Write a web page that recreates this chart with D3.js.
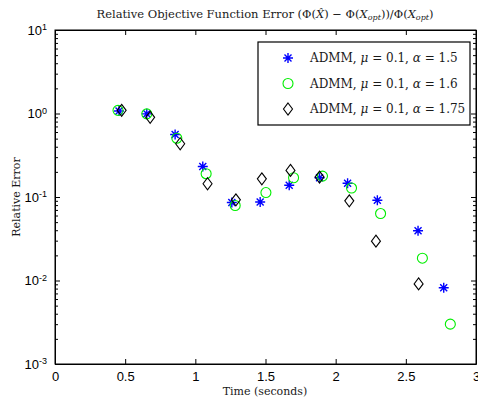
<!DOCTYPE html>
<html>
<head>
<meta charset="utf-8">
<script src="https://cdn.jsdelivr.net/npm/d3@7"></script>
<style>
  body { margin: 0; background: #fff; }
  svg { display: block; }
  .serif { font-family: "DejaVu Serif", "Liberation Serif", serif; fill: #1a1a1a; }
  .tick text { font-family: "Liberation Sans", Arial, sans-serif; font-size: 13px; }
</style>
</head>
<body>
<svg id="chart" width="478" height="404"></svg>
<script>
// time (s) and relative error for each run
const time15 = [0.456, 0.654, 0.856, 1.053, 1.26, 1.462, 1.669, 1.885, 2.085, 2.297, 2.587, 2.77];
const err15 = [1.07, 0.99, 0.56, 0.232, 0.086, 0.087, 0.138, 0.17, 0.146, 0.0916, 0.0394, 0.0082];
const time16 = [0.449, 0.654, 0.868, 1.077, 1.284, 1.503, 1.70, 1.906, 2.113, 2.32, 2.618, 2.817];
const err16 = [1.09, 0.99, 0.506, 0.19, 0.079, 0.113, 0.17, 0.178, 0.128, 0.0634, 0.0185, 0.0030];
const time175 = [0.475, 0.678, 0.892, 1.087, 1.289, 1.474, 1.678, 1.885, 2.097, 2.287, 2.591];
const err175 = [1.09, 0.90, 0.434, 0.144, 0.0925, 0.165, 0.208, 0.173, 0.09, 0.0296, 0.0091];
const xTicks = [0, 0.5, 1, 1.5, 2, 2.5, 3];
const yDecades = [-3, -2, -1, 0, 1];

const series = [
  { alpha: '1.5', marker: 'star', color: '#0000ff', xs: time15, ys: err15 },
  { alpha: '1.6', marker: 'circle', color: '#00ee00', xs: time16, ys: err16 },
  { alpha: '1.75', marker: 'diamond', color: '#000000', xs: time175, ys: err175 },
];

const svg = d3.select('#chart');
const plot = { left: 55, right: 476, top: 30, bottom: 364 };
const x = d3.scaleLinear().domain([0, 3]).range([plot.left, plot.right]);
const y = d3.scaleLog().domain([1e-3, 10]).range([plot.bottom, plot.top]);

// minor log ticks
const minor = [];
for (const d of yDecades.slice(0, -1)) for (let m = 2; m <= 9; m++) minor.push(m * Math.pow(10, d));

function logLabels(g) {
  g.selectAll('.tick text').each(function (d) {
    const e = Math.round(Math.log10(d));
    const t = d3.select(this).text('');
    t.append('tspan').text('10');
    t.append('tspan').attr('dy', '-0.5em').attr('font-size', '9px').text(e);
  });
}

// axes: ticks point inward
svg.append('g').attr('transform', `translate(0,${plot.bottom})`)
  .call(d3.axisBottom(x).tickValues(xTicks).tickFormat(d3.format('')).tickSizeInner(-5).tickSizeOuter(0).tickPadding(8));
svg.append('g').attr('transform', `translate(0,${plot.top})`)
  .call(d3.axisTop(x).tickValues(xTicks).tickFormat('').tickSizeInner(-5).tickSizeOuter(0));

const yMajor = yDecades.map((d) => Math.pow(10, d));
svg.append('g').attr('transform', `translate(${plot.left},0)`)
  .call(d3.axisLeft(y).tickValues(yMajor).tickSizeInner(-5).tickSizeOuter(0).tickPadding(8))
  .call(logLabels);
svg.append('g').attr('transform', `translate(${plot.right},0)`)
  .call(d3.axisRight(y).tickValues(yMajor).tickFormat('').tickSizeInner(-5).tickSizeOuter(0));
svg.append('g').attr('transform', `translate(${plot.left},0)`)
  .call(d3.axisLeft(y).tickValues(minor).tickFormat('').tickSizeInner(-3).tickSizeOuter(0))
  .call((g) => g.select('.domain').remove());
svg.append('g').attr('transform', `translate(${plot.right},0)`)
  .call(d3.axisRight(y).tickValues(minor).tickFormat('').tickSizeInner(-3).tickSizeOuter(0))
  .call((g) => g.select('.domain').remove());

svg.append('rect').attr('x', plot.left).attr('y', plot.top)
  .attr('width', plot.right - plot.left).attr('height', plot.bottom - plot.top)
  .attr('fill', 'none').attr('stroke', '#000').attr('stroke-width', 1);
svg.selectAll('.domain, .tick line').attr('stroke', '#000');
svg.selectAll('.tick text').attr('fill', '#000');

function drawMarker(g, kind, color) {
  if (kind === 'star') {
    g.append('path').attr('d', 'M-5,0H5M0,-5V5M-3.5,-3.5L3.5,3.5M-3.5,3.5L3.5,-3.5')
      .attr('stroke', color).attr('stroke-width', 1.4).attr('fill', 'none');
  } else if (kind === 'circle') {
    g.append('circle').attr('r', 5).attr('fill', 'none').attr('stroke', color).attr('stroke-width', 1.1);
  } else {
    g.append('path').attr('d', 'M0,-6L4.5,0L0,6L-4.5,0Z').attr('fill', 'none').attr('stroke', color).attr('stroke-width', 1.1);
  }
}

for (const s of series) {
  const pts = s.xs.map((t, i) => [t, s.ys[i]]);
  svg.append('g').selectAll('g').data(pts).join('g')
    .attr('transform', (d) => `translate(${x(d[0])},${y(d[1])})`)
    .each(function () { drawMarker(d3.select(this), s.marker, s.color); });
}

// legend
const legend = svg.append('g').attr('transform', 'translate(258,42)');
legend.append('rect').attr('width', 212).attr('height', 83).attr('fill', '#fff').attr('stroke', '#000').attr('stroke-width', 1.2);
series.forEach((s, i) => {
  const row = legend.append('g').attr('transform', `translate(0,${16 + i * 25.5})`);
  drawMarker(row.append('g').attr('transform', 'translate(30,0)'), s.marker, s.color);
  const t = row.append('text').attr('class', 'serif').attr('x', 52).attr('y', 4).attr('font-size', '12px');
  t.append('tspan').text('ADMM, ');
  t.append('tspan').attr('font-style', 'italic').text('μ');
  t.append('tspan').text(' = 0.1, ');
  t.append('tspan').attr('font-style', 'italic').text('α');
  t.append('tspan').text(` = ${s.alpha}`);
});

// title
const title = svg.append('text').attr('class', 'serif').attr('x', 265).attr('y', 18)
  .attr('text-anchor', 'middle').attr('font-size', '11.5px');
title.append('tspan').text('Relative Objective Function Error (Φ(');
title.append('tspan').attr('font-style', 'italic').text('X̂');
title.append('tspan').text(') − Φ(');
title.append('tspan').attr('font-style', 'italic').text('X');
title.append('tspan').attr('font-style', 'italic').attr('font-size', '8px').attr('dy', '2').text('opt');
title.append('tspan').attr('dy', '-2').text('))/Φ(');
title.append('tspan').attr('font-style', 'italic').text('X');
title.append('tspan').attr('font-style', 'italic').attr('font-size', '8px').attr('dy', '2').text('opt');
title.append('tspan').attr('dy', '-2').text(')');

svg.append('text').attr('class', 'serif').attr('x', 265).attr('y', 395)
  .attr('text-anchor', 'middle').attr('font-size', '11px').text('Time (seconds)');
svg.append('text').attr('class', 'serif').attr('transform', 'translate(20,197) rotate(-90)')
  .attr('text-anchor', 'middle').attr('font-size', '11px').text('Relative Error');
</script>
</body>
</html>
